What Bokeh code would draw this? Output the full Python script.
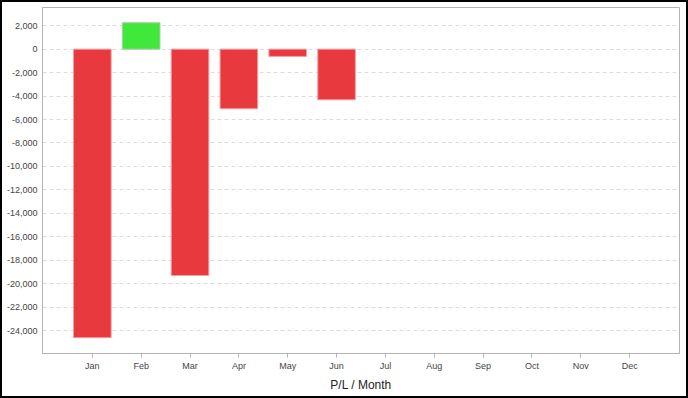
from bokeh.plotting import figure
from bokeh.models import ColumnDataSource, FactorRange, Range1d, FixedTicker, NumeralTickFormatter
from bokeh.embed import file_html
from bokeh.resources import INLINE

months = ["Jan", "Feb", "Mar", "Apr", "May", "Jun", "Jul", "Aug", "Sep", "Oct", "Nov", "Dec"]
bar_months = ["Jan", "Feb", "Mar", "Apr", "May", "Jun"]
pl_values = [-24600, 2250, -19300, -5080, -620, -4320]
y_ticks = [-24000, -22000, -20000, -18000, -16000, -14000, -12000, -10000,
           -8000, -6000, -4000, -2000, 0, 2000]
axis_title = "P/L / Month"

RED = "#E8393F"
GREEN = "#3FE83A"
colors = [GREEN if v >= 0 else RED for v in pl_values]
outlines = ["#A9CBA8" if v >= 0 else "#F29EA1" for v in pl_values]

src = ColumnDataSource(dict(month=bar_months, top=pl_values, color=colors, outline=outlines))

p = figure(width=688, height=398, output_backend="svg", toolbar_location=None,
           x_range=FactorRange(factors=months, range_padding=0.0867),
           y_range=Range1d(-25950, 3550),
           min_border_left=42, min_border_right=9, min_border_top=7, min_border_bottom=45)
p.styles = {"box-shadow": "inset 0 0 0 2px #000000", "background-color": "#ffffff"}
p.border_fill_color = None
p.background_fill_color = "#ffffff"

p.vbar(x="month", top="top", bottom=0, width=0.77, source=src,
       fill_color="color", line_color="outline", line_width=1)

p.outline_line_color = "#b4b4b4"
p.outline_line_width = 1

p.xgrid.grid_line_color = None
p.ygrid.grid_line_color = "#dcdcdc"
p.ygrid.grid_line_dash = "4 3"
p.ygrid.ticker = FixedTicker(ticks=y_ticks)

p.yaxis.ticker = FixedTicker(ticks=y_ticks)
p.yaxis.formatter = NumeralTickFormatter(format="0,0")
p.yaxis.major_tick_out = 0
p.yaxis.major_tick_in = 0
p.yaxis.minor_tick_line_color = None
p.yaxis.major_label_standoff = 5

for ax in (p.xaxis, p.yaxis):
    ax.axis_line_color = "#b4b4b4"
    ax.axis_line_width = 1
    ax.major_label_text_font = "Liberation Sans"
    ax.major_label_text_font_size = "9px"
    ax.major_label_text_color = "#444444"

p.xaxis.major_tick_line_color = "#b4b4b4"
p.xaxis.major_tick_out = 4
p.xaxis.major_tick_in = 0
p.xaxis.major_label_standoff = 3
p.xaxis.axis_label = axis_title
p.xaxis.axis_label_text_font = "Liberation Sans"
p.xaxis.axis_label_text_font_style = "normal"
p.xaxis.axis_label_text_font_size = "12px"
p.xaxis.axis_label_text_color = "#222222"
p.xaxis.axis_label_standoff = 4

open("out.html", "w").write(file_html(p, INLINE))
